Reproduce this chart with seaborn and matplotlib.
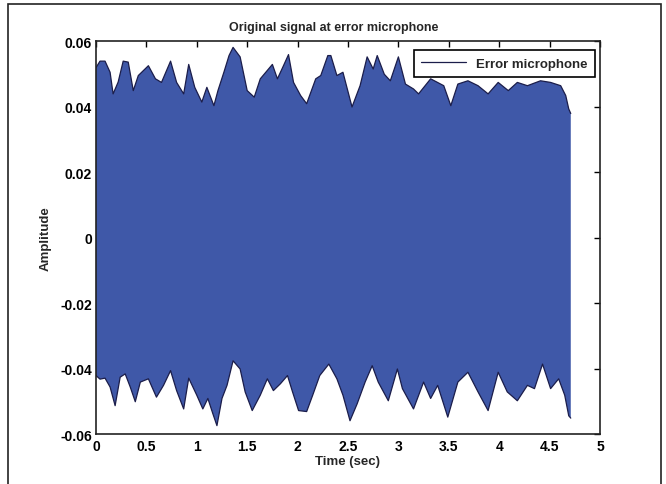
import numpy as np
import matplotlib
matplotlib.use("Agg")
import matplotlib.pyplot as plt
import pandas as pd
import seaborn as sns
from matplotlib.patches import Rectangle

# envelope of the error microphone signal
t_upper = [0.00, 0.04, 0.09, 0.14, 0.17, 0.22, 0.27, 0.32, 0.37, 0.42, 0.52, 0.59, 0.65,
           0.74, 0.80, 0.87, 0.92, 0.98, 1.05, 1.10, 1.17, 1.21, 1.27, 1.32, 1.36, 1.43,
           1.50, 1.57, 1.63, 1.75, 1.80, 1.86, 1.91, 1.96, 2.03, 2.09, 2.18, 2.23, 2.30,
           2.33, 2.39, 2.45, 2.54, 2.62, 2.69, 2.75, 2.79, 2.86, 2.92, 3.00, 3.07, 3.15,
           3.20, 3.32, 3.45, 3.52, 3.59, 3.69, 3.79, 3.89, 3.99, 4.09, 4.18, 4.28, 4.41,
           4.51, 4.61, 4.66, 4.69, 4.71]
upper = [0.052, 0.054, 0.054, 0.0506, 0.044, 0.0476, 0.054, 0.0537, 0.045, 0.0496, 0.0526,
         0.0486, 0.0475, 0.054, 0.0475, 0.044, 0.053, 0.046, 0.0415, 0.046, 0.0404, 0.045,
         0.0507, 0.0557, 0.0582, 0.0553, 0.045, 0.043, 0.0486, 0.053, 0.0486, 0.0526, 0.056,
         0.0475, 0.0435, 0.041, 0.0486, 0.0496, 0.0557, 0.0557, 0.0496, 0.0506, 0.040,
         0.0465, 0.0553, 0.0516, 0.0557, 0.050, 0.048, 0.0553, 0.047, 0.0455, 0.044, 0.0486,
         0.0465, 0.0404, 0.047, 0.048, 0.0465, 0.044, 0.0475, 0.045, 0.0475, 0.0465, 0.048,
         0.0475, 0.0465, 0.0435, 0.0394, 0.038]

t_lower = [0.00, 0.04, 0.09, 0.14, 0.19, 0.24, 0.29, 0.34, 0.39, 0.44, 0.52, 0.60, 0.67,
           0.74, 0.80, 0.87, 0.92, 1.00, 1.06, 1.11, 1.16, 1.20, 1.25, 1.30, 1.36, 1.43,
           1.48, 1.55, 1.63, 1.70, 1.76, 1.83, 1.90, 1.95, 2.01, 2.09, 2.15, 2.22, 2.31,
           2.39, 2.45, 2.52, 2.59, 2.67, 2.74, 2.80, 2.90, 2.99, 3.04, 3.15, 3.25, 3.32,
           3.39, 3.49, 3.59, 3.69, 3.79, 3.89, 3.99, 4.08, 4.18, 4.28, 4.35, 4.43, 4.51,
           4.59, 4.65, 4.69, 4.71]
lower = [-0.042, -0.0431, -0.0428, -0.0455, -0.0512, -0.0425, -0.0415, -0.0455, -0.050,
         -0.044, -0.043, -0.0486, -0.045, -0.0405, -0.0466, -0.0522, -0.0428, -0.048,
         -0.0522, -0.049, -0.0537, -0.0573, -0.049, -0.045, -0.0375, -0.040, -0.047,
         -0.0527, -0.048, -0.043, -0.0466, -0.0445, -0.042, -0.047, -0.0527, -0.053,
         -0.048, -0.042, -0.0385, -0.043, -0.048, -0.0558, -0.0507, -0.044, -0.039, -0.044,
         -0.0497, -0.040, -0.046, -0.0522, -0.044, -0.049, -0.045, -0.0547, -0.044, -0.041,
         -0.047, -0.0527, -0.041, -0.047, -0.0497, -0.045, -0.046, -0.0385, -0.046, -0.043,
         -0.048, -0.0543, -0.055]

x_ticks = [0, 0.5, 1, 1.5, 2, 2.5, 3, 3.5, 4, 4.5, 5]
x_labels = ["0", "0.5", "1", "1.5", "2", "2.5", "3", "3.5", "4", "4.5", "5"]
y_ticks = [-0.06, -0.04, -0.02, 0, 0.02, 0.04, 0.06]
y_labels = ["-0.06", "-0.04", "-0.02", "0", "0.02", "0.04", "0.06"]

sns.set_style("white")
plt.rcParams["font.family"] = ["Liberation Sans", "DejaVu Sans"]
plt.rcParams["font.weight"] = "bold"

fig = plt.figure(figsize=(6.66, 4.85), dpi=100)
ax = fig.add_axes([0.1441, 0.1021, 0.7568, 0.8103])

fill_col = "#3f58a8"
edge_col = "#1b1d4a"

# signal body: polygon from upper envelope and reversed lower envelope
poly_x = list(t_upper) + list(t_lower[::-1])
poly_y = list(upper) + list(lower[::-1])
ax.fill(poly_x, poly_y, color=fill_col, lw=0)

df_up = pd.DataFrame({"t": t_upper, "a": upper})
df_lo = pd.DataFrame({"t": t_lower, "a": lower})
sns.lineplot(data=df_up, x="t", y="a", ax=ax, color=edge_col, lw=0.9,
             label="Error microphone", estimator=None, sort=False)
sns.lineplot(data=df_lo, x="t", y="a", ax=ax, color=edge_col, lw=0.9,
             estimator=None, sort=False)

ax.set_xlim(0, 5)
ax.set_ylim(-0.06, 0.06)
ax.set_xticks(x_ticks)
ax.set_xticklabels(x_labels)
ax.set_yticks(y_ticks)
ax.set_yticklabels(y_labels)
ax.tick_params(direction="in", length=4, width=1, top=True, right=True,
               labelsize=10, pad=3, colors="black")
for s in ax.spines.values():
    s.set_color("#222222")
    s.set_linewidth(1.2)

ax.set_title("Original signal at error microphone", fontsize=9, fontweight="bold",
             pad=8, x=0.472)
ax.set_xlabel("Time (sec)", fontsize=9.5, fontweight="bold", labelpad=2)
ax.set_ylabel("Amplitude", fontsize=9.5, fontweight="bold", labelpad=6)

leg = ax.legend(loc="upper right", fontsize=9.5, frameon=True, fancybox=False,
                handlelength=3.4, borderpad=0.55, borderaxespad=0,
                bbox_to_anchor=(0.99, 0.978))
leg.get_frame().set_edgecolor("black")
leg.get_frame().set_linewidth(1.2)
leg.get_frame().set_alpha(1)

# outer frame around the picture
fig.patches.append(Rectangle((0.012, -0.01), 0.98, 0.999, transform=fig.transFigure,
                             fill=False, edgecolor="#222222", lw=1.2))

fig.savefig("out.png", dpi=100)
